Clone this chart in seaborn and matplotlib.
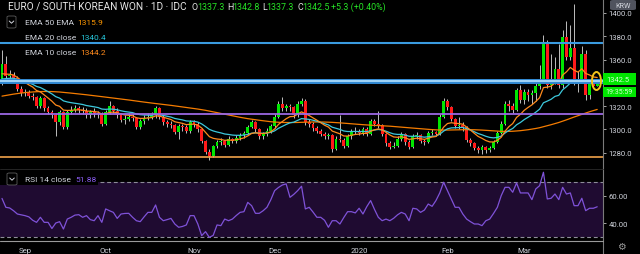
import numpy as np
import pandas as pd
import matplotlib
matplotlib.use("Agg")
import matplotlib.pyplot as plt
import seaborn as sns
from matplotlib.patches import FancyBboxPatch, Ellipse, Rectangle
from matplotlib.lines import Line2D

# ---------------- data ----------------
dates = pd.bdate_range("2019-08-23", "2020-03-27")
first_open = 1340.0
closes = [1356, 1346, 1347, 1344, 1335, 1331, 1332, 1329, 1328, 1320,
          1327, 1318, 1315, 1312, 1306, 1315, 1302, 1315, 1317, 1318,
          1317, 1316, 1312, 1315, 1314, 1313, 1305, 1315, 1320, 1316,
          1312, 1308, 1309, 1311, 1310, 1302, 1307, 1310, 1311, 1312,
          1318, 1311, 1306, 1305, 1304, 1298, 1303, 1302, 1299, 1306,
          1305, 1300, 1290, 1281, 1277, 1286, 1289, 1290, 1287, 1292,
          1290, 1293, 1295, 1297, 1302, 1306, 1300, 1294, 1296, 1299,
          1303, 1311, 1322, 1318, 1320, 1319, 1312, 1322, 1324, 1306,
          1305, 1301, 1299, 1296, 1294, 1295, 1283, 1292, 1291, 1286,
          1294, 1298, 1299, 1297, 1300, 1296, 1307, 1305, 1304, 1296,
          1288, 1285, 1286, 1292, 1296, 1289, 1285, 1294, 1295, 1290,
          1289, 1297, 1298, 1296, 1311, 1324, 1319, 1309, 1303, 1304,
          1302, 1291, 1288, 1284, 1282, 1285, 1282, 1284, 1289, 1297,
          1305, 1322, 1320, 1317, 1334, 1325, 1332, 1330, 1331, 1337,
          1342, 1375, 1338, 1341, 1352, 1338, 1379, 1362, 1370, 1340,
          1342, 1365, 1330, 1341, 1337.3, 1342.5]
highs = [1368, 1363, 1351, 1349, 1346, 1337, 1335, 1334, 1331, 1329,
         1329, 1328, 1320, 1317, 1313, 1317, 1316, 1317, 1320, 1321,
         1320, 1319, 1318, 1317, 1318, 1316, 1315, 1317, 1324, 1321,
         1318, 1314, 1312, 1314, 1313, 1311, 1309, 1312, 1314, 1315,
         1320, 1319, 1312, 1308, 1307, 1305, 1305, 1305, 1304, 1308,
         1308, 1306, 1301, 1291, 1283, 1287, 1291, 1293, 1291, 1294,
         1293, 1295, 1297, 1299, 1304, 1308, 1307, 1301, 1298, 1301,
         1305, 1313, 1324, 1328, 1322, 1322, 1320, 1324, 1327, 1326,
         1309, 1306, 1303, 1300, 1298, 1297, 1296, 1294, 1312, 1293,
         1296, 1300, 1302, 1300, 1302, 1302, 1309, 1309, 1316, 1305,
         1297, 1290, 1289, 1294, 1298, 1297, 1291, 1296, 1298, 1296,
         1292, 1299, 1300, 1299, 1313, 1327, 1326, 1320, 1310, 1311,
         1306, 1303, 1293, 1289, 1286, 1287, 1286, 1286, 1291, 1299,
         1307, 1324, 1325, 1323, 1336, 1338, 1335, 1335, 1334, 1340,
         1355, 1381, 1377, 1365, 1362, 1373, 1385, 1393, 1390, 1408,
         1350, 1372, 1368, 1343, 1343, 1342.8]
lows = [1338, 1344, 1343, 1342, 1333, 1329, 1329, 1327, 1325, 1318,
        1318, 1316, 1313, 1310, 1294, 1304, 1300, 1300, 1313, 1315,
        1314, 1313, 1310, 1310, 1311, 1310, 1303, 1304, 1313, 1314,
        1310, 1306, 1305, 1307, 1307, 1300, 1300, 1305, 1308, 1309,
        1310, 1309, 1304, 1302, 1301, 1296, 1292, 1299, 1297, 1297,
        1302, 1298, 1288, 1279, 1274, 1276, 1284, 1287, 1285, 1286,
        1288, 1288, 1291, 1293, 1296, 1301, 1298, 1292, 1292, 1294,
        1297, 1301, 1310, 1316, 1316, 1316, 1310, 1311, 1320, 1304,
        1302, 1299, 1297, 1294, 1292, 1292, 1281, 1282, 1289, 1284,
        1285, 1292, 1296, 1295, 1295, 1294, 1295, 1303, 1301, 1294,
        1286, 1283, 1284, 1285, 1290, 1287, 1283, 1284, 1292, 1288,
        1287, 1288, 1295, 1294, 1295, 1310, 1317, 1307, 1301, 1300,
        1299, 1289, 1286, 1282, 1280, 1279, 1280, 1281, 1283, 1288,
        1296, 1304, 1316, 1314, 1316, 1323, 1322, 1324, 1322, 1324,
        1335, 1340, 1336, 1335, 1339, 1336, 1336, 1360, 1360, 1338,
        1332, 1340, 1325, 1326, 1336, 1337.3]
rsi14 = [58, 51.5, 51, 49, 46.6, 46, 45.4, 44.5, 42, 40.5,
         44.2, 40.5, 40.5, 36, 40, 41, 35.6, 42.9, 44.2, 45.8,
         46.1, 44.2, 45.4, 42.5, 41.7, 45.4, 40.5, 50.3, 49, 47.8,
         43.4, 46.6, 47, 47.1, 44.2, 41.7, 41, 44.5, 47.8, 47.8,
         53.2, 44.2, 41.7, 42.5, 43.4, 39.3, 36.9, 37.5, 38.6, 45.4,
         45.4, 39.3, 30.8, 33.7, 29.5, 31, 38.6, 38.1, 42.9, 41.7,
         42.9, 45.5, 47.8, 48.3, 55.1, 52.7, 47.1, 47.1, 49, 51.5,
         57, 63.7, 66, 67.8, 68.6, 58.8, 61, 63.7, 66.9, 50.3,
         51.5, 48, 44.2, 44.2, 42, 36.9, 41.7, 41.7, 39.3, 44,
         48.3, 48.3, 47.4, 50.8, 46.6, 52, 56.4, 50, 44.2, 41.7,
         42.9, 41.7, 43.5, 46, 47.8, 46.6, 41.7, 50.8, 50.3, 47.8,
         49.5, 53.9, 52.2, 56.4, 62, 69.8, 63.7, 57.6, 51.5, 51.5,
         46.6, 42.9, 41, 39.3, 39.3, 38.1, 41.7, 42.9, 47, 51.5,
         60, 66.1, 66.1, 62.5, 69.3, 62, 62, 62, 57.1, 64.9,
         67.3, 77.1, 57.6, 58.1, 61.2, 57.1, 66.1, 61.2, 62, 52.7,
         52.7, 58.1, 49.05, 50.8, 50.8, 51.88]
ema_seeds = {10: 1346.0, 20: 1342.0, 50: 1328.0}   # EMA values at the left edge
level_blue_top = 1374.2
level_blue_mid = 1341.6
level_purple = 1313.6
level_orange = 1276.0
price_ticks = [1280, 1300, 1320, 1360, 1380, 1400]
rsi_ticks = [40, 60]
month_labels = ["Sep", "Oct", "Nov", "Dec", "2020", "Feb", "Mar"]

# ---------------- derived ----------------
n = len(closes)
idx = np.arange(n)
c = np.array(closes, float)
o = np.array([first_open] + closes[:-1], float)
h = np.maximum(np.array(highs, float), np.maximum(o, c))
l = np.minimum(np.array(lows, float), np.minimum(o, c))


def ema(vals, span, seed):
    s = pd.Series([seed] + list(vals))
    return s.ewm(span=span, adjust=False).mean().iloc[1:].to_numpy()


ema10 = ema(c, 10, ema_seeds[10])
ema20 = ema(c, 20, ema_seeds[20])
ema50 = ema(ema20, 50, ema_seeds[50])   # "EMA 50 EMA": 50-period EMA of the EMA 20

month_idx = [i for i in range(1, n) if dates[i].month != dates[i - 1].month]

# ---------------- style ----------------
sns.set_style("dark", {"axes.facecolor": "black", "figure.facecolor": "black"})
plt.rcParams["font.family"] = ["Roboto", "DejaVu Sans"]

W, H = 640, 255
fig = plt.figure(figsize=(6.4, 2.55), dpi=100, facecolor="black")


def rect(lft, top, rgt, bot):
    return [lft / W, 1 - bot / H, (rgt - lft) / W, (bot - top) / H]


PX = 3.84  # pixels per bar
xlim = (-2 / PX, 601 / PX)

ax = fig.add_axes(rect(0, 0, 603, 169))
axr = fig.add_axes(rect(0, 170, 603, 241))
for a in (ax, axr):
    a.set_facecolor("black")
    for s in a.spines.values():
        s.set_visible(False)
    a.set_xlim(*xlim)
    a.grid(False)

GREEN = "#00e600"
RED = "#ff1a1a"
up = c >= o
ax.vlines(idx, l, h, color="#bdbdbd", lw=0.7, zorder=2)
body_h = np.maximum(np.abs(c - o), 0.5)
ax.bar(idx, body_h, bottom=np.minimum(o, c), width=0.72,
       color=np.where(up, GREEN, RED), linewidth=0, zorder=3)

sns.lineplot(x=idx, y=ema50, ax=ax, color="#f57c00", lw=0.9, legend=False, zorder=4)
sns.lineplot(x=idx, y=ema20, ax=ax, color="#3cc8dc", lw=0.9, legend=False, zorder=4)
sns.lineplot(x=idx, y=ema10, ax=ax, color="#ff8a1c", lw=0.9, legend=False, zorder=4)

ax.axhline(level_blue_top, color="#3a9be0", lw=1.5, zorder=5)
ax.axhline(level_blue_mid, color="#2f86d0", lw=3.6, zorder=5)
ax.axhline(level_blue_mid, color="#9fd2f5", lw=1.5, zorder=5)
ax.axhline(level_purple, color="#9b68e3", lw=1.3, zorder=5)
ax.axhline(level_orange, color="#f0a24a", lw=1.2, zorder=5)

ax.set_ylim(1266.9, 1412.0)
ax.set_xlabel("")
ax.set_ylabel("")
ax.yaxis.tick_right()
ax.set_yticks(price_ticks)
ax.set_yticklabels([f"{v:.1f}" for v in price_ticks])
ax.set_xticks([])
ax.tick_params(axis="y", colors="#bfbfbf", labelsize=5.6, length=2.2, width=0.6, pad=1.8,
               labelcolor="#d1d4dc")

# RSI pane
axr.axhspan(30, 70, color="#1f0b31", zorder=1, lw=0)
axr.axhline(70, color="#8d8d99", lw=0.8, dashes=(3.5, 2.5), zorder=2)
axr.axhline(30, color="#8d8d99", lw=0.8, dashes=(3.5, 2.5), zorder=2)
sns.lineplot(x=idx, y=rsi14, ax=axr, color="#7f52d8", lw=0.9, legend=False, zorder=3)
axr.set_ylim(27.6, 79.5)
axr.set_xlabel("")
axr.set_ylabel("")
axr.yaxis.tick_right()
axr.set_yticks(rsi_ticks)
axr.set_yticklabels([f"{v:.2f}" for v in rsi_ticks])
axr.set_xticks(month_idx)
axr.set_xticklabels(month_labels)
axr.tick_params(axis="y", colors="#bfbfbf", labelsize=5.6, length=2.2, width=0.6, pad=1.8,
                labelcolor="#d1d4dc")
axr.tick_params(axis="x", colors="#bfbfbf", labelsize=5.6, length=2.5, width=0.6, pad=4.0,
                labelcolor="#d1d4dc", direction="inout")


# ---------------- chrome ----------------
def T(x, y, s, color="#d1d4dc", size=6.0, **kw):
    fig.text(x / W, 1 - y / H, s, color=color, fontsize=size, va="center", ha="left", **kw)


def fline(xs, ys, color, lw=0.8):
    fig.add_artist(Line2D([x / W for x in xs], [1 - y / H for y in ys], color=color, lw=lw,
                          transform=fig.transFigure))


fline([603, 603], [0, 255], "#7a7a7a", 0.8)
fline([0, 603], [241.5, 241.5], "#9a9a9a", 0.8)
fline([0, 603], [169.5, 169.5], "#2a2a2a", 0.6)

# title line
T(8, 7, "EURO / SOUTH KOREAN WON · 1D · IDC", color="#e6e6e6", size=7.3)
OHLC_G = "#26e326"
for s, x, col in [("O", 192, "#e6e6e6"), ("1337.3", 197.5, OHLC_G), ("H", 227, "#e6e6e6"),
                  ("1342.8", 232, OHLC_G), ("L", 262, "#e6e6e6"), ("1337.3", 266.5, OHLC_G),
                  ("C", 297, "#e6e6e6"), ("1342.5", 302, OHLC_G), ("+5.3 (+0.40%)", 331, OHLC_G)]:
    T(x, 7, s, color=col, size=6.4)


def chevron_box(x0, y0, x1, y1):
    fig.add_artist(FancyBboxPatch((x0 / W, 1 - y1 / H), (x1 - x0) / W, (y1 - y0) / H,
                                  boxstyle="round,pad=0,rounding_size=0.004",
                                  transform=fig.transFigure, fc="black", ec="#5c5c5c", lw=0.6,
                                  zorder=2))
    cx, cy = (x0 + x1) / 2, (y0 + y1) / 2
    fline([cx - 2.3, cx, cx + 2.3], [cy - 1.0, cy + 1.2, cy - 1.0], "#d1d4dc", 0.7)


chevron_box(7, 17, 16, 29)
T(25, 23, "EMA 50 EMA")
T(77, 23, "1315.9", color="#ff9800")
T(25, 38, "EMA 20 close")
T(80, 38, "1340.4", color="#26c6da")
T(25, 53, "EMA 10 close")
T(80, 53, "1344.2", color="#ff8a1c")

# RSI legend
fig.add_artist(Rectangle((0, 1 - 186 / H), 98 / W, 14 / H, transform=fig.transFigure,
                         fc="black", ec="none", zorder=1.5))
chevron_box(7, 174, 17, 186)
T(25, 180, "RSI 14 close")
T(75, 180, "51.88", color="#8a5cf0")

# KRW box
fig.add_artist(FancyBboxPatch((610 / W, 1 - 11 / H), 26 / W, 10 / H,
                              boxstyle="round,pad=0,rounding_size=0.005",
                              transform=fig.transFigure, fc="#50535e", ec="none", zorder=2))
fig.text(623 / W, 1 - 6 / H, "KRW", color="#d1d4dc", fontsize=5.2, ha="center", va="center",
         zorder=3)

# last price boxes
fig.add_artist(Rectangle((603 / W, 1 - 86 / H), 33 / W, 12 / H, transform=fig.transFigure,
                         fc="#00e600", ec="none", zorder=2))
fig.text(606 / W, 1 - 80 / H, "1342.5", color="#d8ffd8", fontsize=5.4, va="center", zorder=3)
fig.add_artist(Rectangle((603 / W, 1 - 98 / H), 33 / W, 10 / H, transform=fig.transFigure,
                         fc="#00e600", ec="none", zorder=2))
fig.text(605 / W, 1 - 93 / H, "19:35:59", color="#d8ffd8", fontsize=5.0, va="center", zorder=3)

# highlight ellipse around last bar
fig.add_artist(Ellipse((596.5 / W, 1 - 82 / H), 9 / W, 18 / H, transform=fig.transFigure,
                       fc="none", ec="#f2c31b", lw=1.4, zorder=3))

# gear icon
fig.text(621 / W, 1 - 247 / H, "⚙", color="#9a9a9a", fontsize=7, ha="center", va="center",
         family=["DejaVu Sans"])

fig.savefig("out.png", dpi=100, facecolor="black")
